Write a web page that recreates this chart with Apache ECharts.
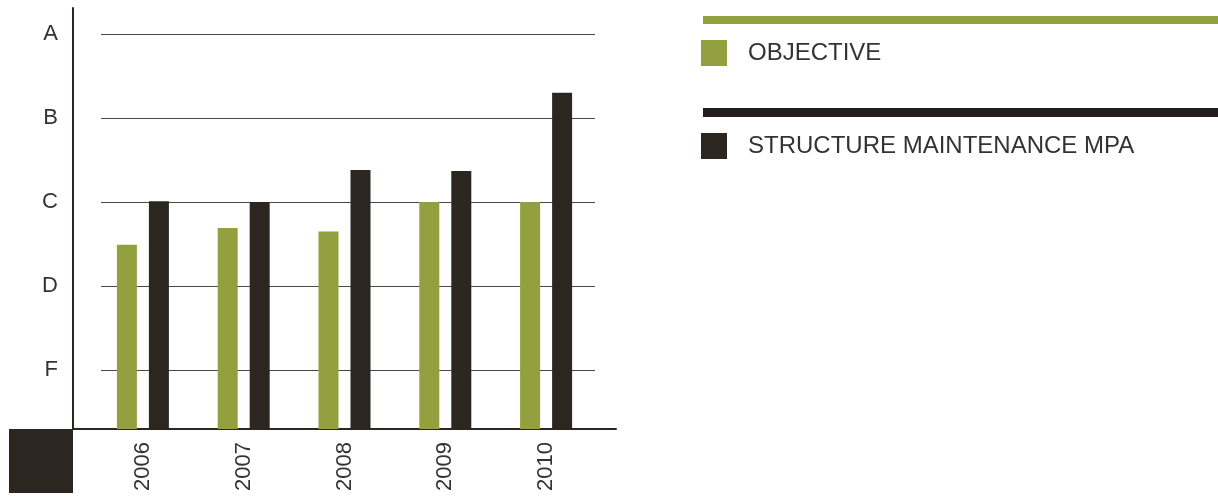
<!DOCTYPE html>
<html>
<head>
<meta charset="utf-8">
<script src="https://cdn.jsdelivr.net/npm/echarts@6/dist/echarts.min.js"></script>
<style>
html,body{margin:0;padding:0;background:#fff;}
#chart{width:1218px;height:498px;}
</style>
</head>
<body>
<div id="chart"></div>
<script>
// ---- data ----
const categories = ['2006', '2007', '2008', '2009', '2010'];
const objectiveValues = [2.49, 2.69, 2.65, 3.0, 3.0];
const structureValues = [3.01, 3.0, 3.38, 3.37, 4.3];
const gradeLabels = ['F', 'D', 'C', 'B', 'A'];
const gradeValues = [1, 2, 3, 4, 5];
const seriesNames = ['OBJECTIVE', 'STRUCTURE MAINTENANCE MPA'];

// ---- styles ----
const GREEN = '#93a040';
const DARK = '#2b2720';
const TEXT = '#333333';
const FONT = '"Liberation Sans", Arial, sans-serif';
const Y_MIN = 1 - 59 / 84;
const Y_MAX = 5 + 26 / 84;

const chart = echarts.init(document.getElementById('chart'), null, {renderer: 'canvas'});

const option = {
  animation: false,
  backgroundColor: '#ffffff',
  grid: [
    {left: 92.5, width: 504, top: 8, bottom: 69},   // bars
    {left: 101, width: 494, top: 8, bottom: 69},    // gridlines
    {left: 73, width: 543, top: 8, bottom: 69}      // baseline
  ],
  xAxis: [
    {
      gridIndex: 0, type: 'category', data: categories,
      axisLine: {show: false}, axisTick: {show: false},
      axisLabel: {rotate: 90, margin: 13, fontSize: 22, color: TEXT, fontFamily: FONT}
    },
    {gridIndex: 1, type: 'value', min: 0, max: 1, show: false},
    {
      gridIndex: 2, type: 'value', min: 0, max: 1,
      axisLine: {show: true, onZero: false, lineStyle: {color: DARK, width: 2}},
      axisTick: {show: false}, axisLabel: {show: false}, splitLine: {show: false}
    }
  ],
  yAxis: [
    {
      gridIndex: 0, type: 'value', min: Y_MIN, max: Y_MAX, offset: 19.5,
      axisLine: {show: true, lineStyle: {color: DARK, width: 2}},
      axisTick: {show: false, customValues: gradeValues},
      splitLine: {show: false},
      axisLabel: {
        customValues: gradeValues, margin: 15, fontSize: 22, color: TEXT, fontFamily: FONT,
        formatter: v => gradeLabels[gradeValues.indexOf(Math.round(v))]
      }
    },
    {
      gridIndex: 1, type: 'value', min: Y_MIN, max: Y_MAX,
      axisLine: {show: false}, axisLabel: {show: false},
      axisTick: {show: false, customValues: gradeValues},
      splitLine: {show: true, lineStyle: {color: '#4a4a4a', width: 1}}
    },
    {gridIndex: 2, type: 'value', min: 0, max: 1, show: false}
  ],
  legend: {
    orient: 'vertical', left: 701, top: 40, padding: 0,
    itemWidth: 26, itemHeight: 26, itemGap: 67, icon: 'rect',
    data: seriesNames,
    textStyle: {fontSize: 24, color: TEXT, fontFamily: FONT, padding: [0, 0, 0, 16]}
  },
  graphic: [
    {type: 'rect', shape: {x: 703, y: 16, width: 515, height: 8}, style: {fill: GREEN}, silent: true},
    {type: 'rect', shape: {x: 703, y: 108, width: 515, height: 9}, style: {fill: '#231f20'}, silent: true},
    {type: 'rect', shape: {x: 9, y: 429, width: 64, height: 64}, style: {fill: DARK}, silent: true}
  ],
  series: [
    {
      name: seriesNames[0], type: 'bar', xAxisIndex: 0, yAxisIndex: 0,
      data: objectiveValues, barWidth: 20, barGap: '60%',
      itemStyle: {color: GREEN}
    },
    {
      name: seriesNames[1], type: 'bar', xAxisIndex: 0, yAxisIndex: 0,
      data: structureValues, barWidth: 20, barGap: '60%',
      itemStyle: {color: DARK}
    }
  ]
};
chart.setOption(option);
</script>
</body>
</html>
